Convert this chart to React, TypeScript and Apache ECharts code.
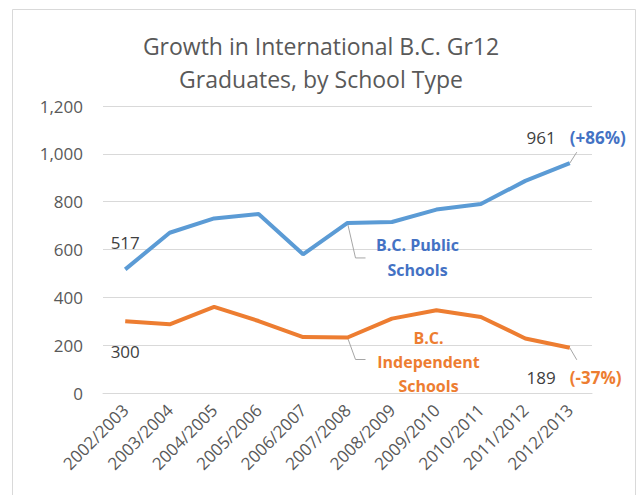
import React, { useEffect, useRef } from "react";
import * as echarts from "echarts";

const categories = [
  "2002/2003", "2003/2004", "2004/2005", "2005/2006", "2006/2007", "2007/2008",
  "2008/2009", "2009/2010", "2010/2011", "2011/2012", "2012/2013",
];
const publicValues = [517, 670, 730, 748, 580, 711, 715, 767, 790, 887, 961];
const independentValues = [300, 287, 360, 301, 234, 232, 311, 346, 318, 228, 189];
const publicName = "B.C. Public\nSchools";
const independentName = "B.C.\nIndependent\nSchools";
const publicChange = "(+86%)";
const independentChange = "(-37%)";
const titleText = "Growth in International B.C. Gr12\nGraduates, by School Type";

const FONT = "'Open Sans', sans-serif";
const GREY = "#595959";
const BLUE_LINE = "#5B9BD5";
const ORANGE = "#ED7D31";
const BLUE_TEXT = "#4472C4";

export default function App() {
  const ref = useRef<HTMLDivElement>(null);
  useEffect(() => {
    if (!ref.current) return;
    const chart = echarts.init(ref.current, null, { renderer: "svg" });
    const option: any = {
      animation: false,
      backgroundColor: "#ffffff",
      title: {
        text: titleText,
        left: "center",
        top: 24,
        textStyle: { fontFamily: FONT, fontSize: 23, fontWeight: "normal", color: GREY, lineHeight: 33 },
      },
      grid: { left: 103, right: 50, top: 106, bottom: 102 },
      xAxis: {
        type: "category",
        data: categories,
        boundaryGap: true,
        axisLine: { show: true, lineStyle: { color: "#d9d9d9", width: 1 } },
        axisTick: { show: false },
        axisLabel: { rotate: 45, color: GREY, fontFamily: FONT, fontSize: 17, margin: 14, interval: 0 },
      },
      yAxis: {
        type: "value",
        min: 0,
        max: 1200,
        interval: 200,
        axisLine: { show: false },
        axisTick: { show: false },
        splitLine: { lineStyle: { color: "#d9d9d9", width: 1 } },
        axisLabel: {
          color: GREY,
          fontFamily: FONT,
          fontSize: 17,
          margin: 20,
          formatter: (v: number) => v.toLocaleString("en-US"),
        },
      },
      series: [
        {
          type: "line",
          data: publicValues,
          showSymbol: false,
          lineStyle: { color: BLUE_LINE, width: 4 },
          itemStyle: { color: BLUE_LINE },
        },
        {
          type: "line",
          data: independentValues,
          showSymbol: false,
          lineStyle: { color: ORANGE, width: 4 },
          itemStyle: { color: ORANGE },
        },
      ],
    };
    chart.setOption(option);

    const px = (i: number, v: number) => chart.convertToPixel({ xAxisIndex: 0, yAxisIndex: 0 }, [i, v]) as number[];
    const last = categories.length - 1;
    const p0 = px(0, publicValues[0]);
    const i0 = px(0, independentValues[0]);
    const pL = px(last, publicValues[last]);
    const iL = px(last, independentValues[last]);
    const p5 = px(5, publicValues[5]);
    const i5 = px(5, independentValues[5]);
    const valStyle = { fontFamily: FONT, fontSize: 17, fill: "#404040" };
    const lead = { stroke: "#a6a6a6", lineWidth: 1, fill: null };
    const graphic: any[] = [
      { type: "rect", shape: { x: 12.5, y: 9.5, width: 623, height: 520 }, style: { fill: null, stroke: "#d9d9d9", lineWidth: 1 }, z: -1 },
      { type: "text", x: p0[0], y: p0[1] - 27, style: { ...valStyle, text: String(publicValues[0]), align: "center", verticalAlign: "middle" } },
      { type: "text", x: i0[0], y: i0[1] + 30, style: { ...valStyle, text: String(independentValues[0]), align: "center", verticalAlign: "middle" } },
      { type: "text", x: pL[0] - 14, y: pL[1] - 26, style: { ...valStyle, text: String(publicValues[last]), align: "right", verticalAlign: "middle" } },
      { type: "text", x: iL[0] - 14, y: iL[1] + 30, style: { ...valStyle, text: String(independentValues[last]), align: "right", verticalAlign: "middle" } },
      { type: "text", x: pL[0], y: pL[1] - 26, style: { fontFamily: FONT, fontSize: 17, fontWeight: "bold", fill: BLUE_TEXT, text: publicChange, align: "left", verticalAlign: "middle" } },
      { type: "text", x: iL[0], y: iL[1] + 30, style: { fontFamily: FONT, fontSize: 17, fontWeight: "bold", fill: ORANGE, text: independentChange, align: "left", verticalAlign: "middle" } },
      { type: "polyline", shape: { points: [[pL[0], pL[1]], [pL[0] + 7, pL[1] - 11]] }, style: lead },
      { type: "polyline", shape: { points: [[iL[0], iL[1]], [iL[0] + 7, iL[1] + 12]] }, style: lead },
      { type: "text", x: p5[0] + 70, y: p5[1] + 35, style: { fontFamily: FONT, fontSize: 16, fontWeight: "bold", fill: BLUE_TEXT, text: publicName, align: "center", verticalAlign: "middle", lineHeight: 25 } },
      { type: "text", x: i5[0] + 81, y: i5[1] + 24, style: { fontFamily: FONT, fontSize: 16, fontWeight: "bold", fill: ORANGE, text: independentName, align: "center", verticalAlign: "middle", lineHeight: 24 } },
      { type: "polyline", shape: { points: [[p5[0], p5[1]], [p5[0] + 8, p5[1] + 35], [p5[0] + 18, p5[1] + 35]] }, style: lead },
      { type: "polyline", shape: { points: [[i5[0], i5[1]], [i5[0] + 8, i5[1] + 22], [i5[0] + 18, i5[1] + 22]] }, style: lead },
    ];
    chart.setOption({ graphic });
    return () => chart.dispose();
  }, []);
  return <div ref={ref} style={{ position: "fixed", left: 0, top: 0, width: 642, height: 495 }} />;
}
